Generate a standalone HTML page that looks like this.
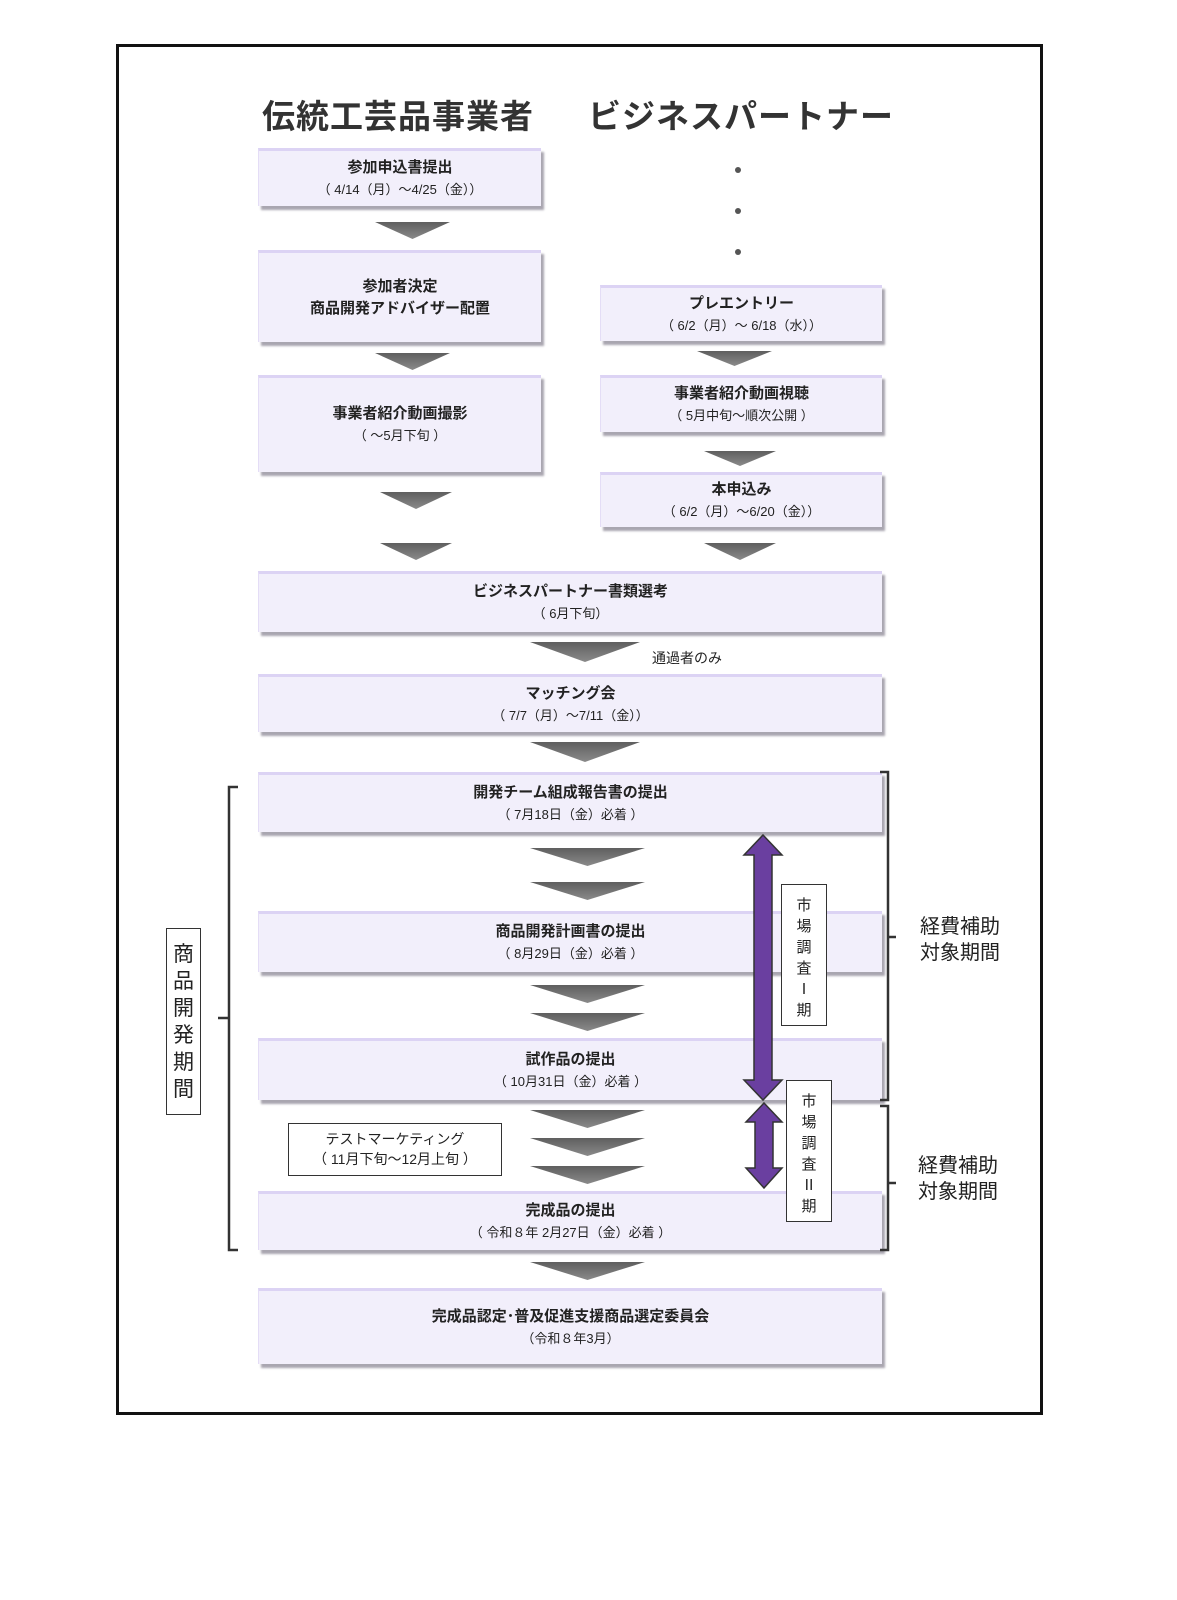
<!DOCTYPE html>
<html><head><meta charset="utf-8"><style>
body{margin:0;width:1177px;height:1600px;background:#fff;position:relative;font-family:"Liberation Sans","Noto Sans CJK JP",sans-serif;color:#222;overflow:hidden}
.a{position:absolute}
.frame{left:116px;top:44px;width:921px;height:1365px;border:3px solid #111}
.t{font-size:33px;font-weight:bold;top:90px;letter-spacing:1px;color:#333}
.b{position:absolute;background:#f2effb;border-top:3px solid #dcd3f4;border-left:1px solid #e4ddf6;box-shadow:3px 4px 2px #a9a6b0;text-align:center;display:flex;flex-direction:column;justify-content:center;font-size:15px;font-weight:bold;line-height:22px;box-sizing:border-box}
.b small{font-size:13px;font-weight:normal}
.ar{position:absolute;height:17px;background:linear-gradient(#5f5f5f,#8a8a8a);clip-path:polygon(0 0,100% 0,50% 100%)}
.dot{position:absolute;width:6px;height:6px;border-radius:3px;background:#555}
.vt{position:absolute;border:1.5px solid #333;background:#fff;text-align:center;box-sizing:border-box}
.br{position:absolute;border:2px solid #333}
</style></head><body>
<div class="a frame"></div>
<div class="a t" style="left:262px">伝統工芸品事業者</div>
<div class="a t" style="left:588px">ビジネスパートナー</div>

<div class="b" style="left:258px;top:148px;width:283px;height:58px">参加申込書提出<small>（ 4/14（月）～4/25（金））</small></div>
<div class="ar" style="left:375px;top:222px;width:75px"></div>
<div class="b" style="left:258px;top:250px;width:283px;height:92px">参加者決定<br>商品開発アドバイザー配置</div>
<div class="ar" style="left:375px;top:353px;width:75px"></div>
<div class="b" style="left:258px;top:375px;width:283px;height:97px">事業者紹介動画撮影<small>（ ～5月下旬 ）</small></div>
<div class="ar" style="left:380px;top:492px;width:72px"></div>
<div class="ar" style="left:380px;top:543px;width:72px"></div>

<div class="dot" style="left:735px;top:167px"></div>
<div class="dot" style="left:735px;top:208px"></div>
<div class="dot" style="left:735px;top:249px"></div>
<div class="b" style="left:600px;top:285px;width:282px;height:56px">プレエントリー<small>（ 6/2（月）～ 6/18（水））</small></div>
<div class="ar" style="left:697px;top:351px;width:75px;height:15px"></div>
<div class="b" style="left:600px;top:375px;width:282px;height:57px">事業者紹介動画視聴<small>（ 5月中旬～順次公開 ）</small></div>
<div class="ar" style="left:704px;top:451px;width:72px;height:15px"></div>
<div class="b" style="left:600px;top:472px;width:282px;height:55px">本申込み<small>（ 6/2（月）～6/20（金））</small></div>
<div class="ar" style="left:704px;top:543px;width:72px"></div>

<div class="b" style="left:258px;top:571px;width:624px;height:61px">ビジネスパートナー書類選考<small>（ 6月下旬）</small></div>
<div class="ar" style="left:530px;top:642px;width:110px;height:20px"></div>
<div class="a" style="left:652px;top:648px;font-size:14px">通過者のみ</div>
<div class="b" style="left:258px;top:674px;width:624px;height:58px">マッチング会<small>（ 7/7（月）～7/11（金））</small></div>
<div class="ar" style="left:530px;top:742px;width:110px;height:20px"></div>
<div class="b" style="left:258px;top:772px;width:624px;height:60px">開発チーム組成報告書の提出<small>（ 7月18日（金）必着 ）</small></div>
<div class="ar" style="left:530px;top:848px;width:115px;height:18px"></div>
<div class="ar" style="left:530px;top:882px;width:115px;height:18px"></div>
<div class="b" style="left:258px;top:911px;width:624px;height:61px">商品開発計画書の提出<small>（ 8月29日（金）必着 ）</small></div>
<div class="ar" style="left:530px;top:985px;width:115px;height:18px"></div>
<div class="ar" style="left:530px;top:1013px;width:115px;height:18px"></div>
<div class="b" style="left:258px;top:1038px;width:624px;height:62px">試作品の提出<small>（ 10月31日（金）必着 ）</small></div>
<div class="ar" style="left:530px;top:1110px;width:115px;height:18px"></div>
<div class="ar" style="left:530px;top:1138px;width:115px;height:18px"></div>
<div class="ar" style="left:530px;top:1166px;width:115px;height:18px"></div>
<div class="b" style="left:258px;top:1191px;width:624px;height:59px">完成品の提出<small>（ 令和８年 2月27日（金）必着 ）</small></div>
<div class="ar" style="left:530px;top:1262px;width:115px;height:18px"></div>
<div class="b" style="left:258px;top:1288px;width:624px;height:76px">完成品認定･普及促進支援商品選定委員会<small>（令和８年3月）</small></div>

<div class="vt" style="left:288px;top:1123px;width:214px;height:53px;font-size:14px;line-height:20px;padding-top:5px">テストマーケティング<br>（ 11月下旬～12月上旬 ）</div>

<svg class="a" style="left:0;top:0" width="1177" height="1600">
<polygon points="763,835 782,855 772,855 772,1080 782,1080 763,1100 744,1080 754,1080 754,855 744,855" fill="#6a3fa0" stroke="#333" stroke-width="1.5"/>
<polygon points="764,1103 782,1122 773,1122 773,1168 782,1168 764,1188 746,1168 755,1168 755,1122 746,1122" fill="#6a3fa0" stroke="#333" stroke-width="1.5"/>
<polyline points="880,772 888,772 888,1100 880,1100" fill="none" stroke="#333" stroke-width="2.5"/>
<line x1="888" y1="937" x2="896" y2="937" stroke="#333" stroke-width="2.5"/>
<polyline points="880,1106 888,1106 888,1250 880,1250" fill="none" stroke="#333" stroke-width="2.5"/>
<line x1="888" y1="1183" x2="896" y2="1183" stroke="#333" stroke-width="2.5"/>
<polyline points="238,787 229,787 229,1250 238,1250" fill="none" stroke="#333" stroke-width="2.5"/>
<line x1="218" y1="1018" x2="229" y2="1018" stroke="#333" stroke-width="2.5"/>
</svg>
<div class="vt" style="left:781px;top:884px;width:46px;height:142px;font-size:15px;line-height:21px;padding-top:10px">市<br>場<br>調<br>査<br>Ⅰ<br>期</div>
<div class="vt" style="left:786px;top:1080px;width:46px;height:142px;font-size:15px;line-height:21px;padding-top:10px">市<br>場<br>調<br>査<br>Ⅱ<br>期</div>
<div class="vt" style="left:166px;top:928px;width:35px;height:187px;font-size:21px;line-height:27px;padding-top:12px">商<br>品<br>開<br>発<br>期<br>間</div>
<div class="a" style="left:920px;top:914px;font-size:20px;line-height:26px">経費補助<br>対象期間</div>
<div class="a" style="left:918px;top:1153px;font-size:20px;line-height:26px">経費補助<br>対象期間</div>
</body></html>
